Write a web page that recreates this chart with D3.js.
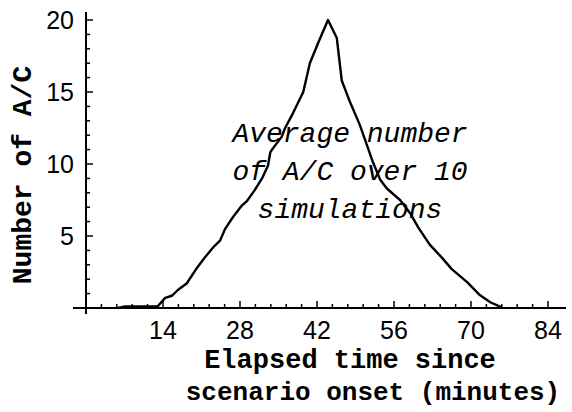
<!DOCTYPE html>
<html>
<head>
<meta charset="utf-8">
<script src="https://cdn.jsdelivr.net/npm/d3@7"></script>
<style>
body { margin: 0; background: #fff; }
</style>
</head>
<body>
<div id="workspace"></div>
<script>
// values
var minutes = [5.8, 6.9, 13, 14.4, 15.6, 16.7, 18.3, 20.2, 21.6, 23.1, 24.4, 25.3, 26.7, 28.3, 29.2, 30.7,
	32, 33.1, 33.5, 34, 35.6, 36.2, 37.6, 39.5, 40.7, 42.2, 44, 45.6, 46.5, 48, 49.8, 52, 53.5,
	54.7, 57.1, 58.9, 60.4, 62.5, 64.7, 66.5, 69.3, 71.6, 73.5, 75.6];
var aircraft = [0, 0.1, 0.1, 0.7, 0.85, 1.25, 1.7, 2.8, 3.5, 4.2, 4.7, 5.5, 6.3, 7.1, 7.4, 8.2,
	9.0, 9.9, 10.8, 11.1, 11.9, 12.5, 13.5, 15, 17, 18.4, 20, 18.75, 15.8, 14.3, 12.7, 10.3, 8.9,
	8.3, 7.5, 6.6, 5.6, 4.4, 3.5, 2.7, 1.8, 0.9, 0.4, 0.05];
var xTicks = [14, 28, 42, 56, 70, 84];
var yTicks = [5, 10, 15, 20];
var noteLines = ["Average number", "of A/C over 10", "simulations"];

var svg = d3.select("#workspace")
	.append("svg")
	.attr("width", 572)
	.attr("height", 412);

var x = d3.scaleLinear().domain([0, 84]).range([86, 548]);
var y = d3.scaleLinear().domain([0, 20]).range([308, 20]);

// axes, mathematica style: cross at origin, ticks inside
svg.append("line")
	.attr("x1", 73).attr("x2", 566)
	.attr("y1", y(0)).attr("y2", y(0))
	.attr("stroke", "black").attr("stroke-width", 2);
svg.append("line")
	.attr("x1", x(0)).attr("x2", x(0))
	.attr("y1", 12).attr("y2", 314)
	.attr("stroke", "black").attr("stroke-width", 2);

var xMinor = d3.range(1, 31).map(function(i) { return i * 2.8; });
svg.selectAll(".xt")
	.data(xMinor)
	.enter().append("line")
	.attr("x1", function(d) { return x(d); })
	.attr("x2", function(d) { return x(d); })
	.attr("y1", y(0))
	.attr("y2", function(d, i) { return (i + 1) % 5 == 0 ? y(0) - 7 : y(0) - 4; })
	.attr("stroke", "black").attr("stroke-width", 1.5);

var yMinor = d3.range(1, 21);
svg.selectAll(".yt")
	.data(yMinor)
	.enter().append("line")
	.attr("x1", x(0))
	.attr("x2", function(d) { return d % 5 == 0 ? x(0) + 7 : x(0) + 4; })
	.attr("y1", function(d) { return y(d); })
	.attr("y2", function(d) { return y(d); })
	.attr("stroke", "black").attr("stroke-width", 1.5);

svg.selectAll(".xl")
	.data(xTicks)
	.enter().append("text")
	.attr("x", function(d) { return x(d); })
	.attr("y", 339)
	.attr("text-anchor", "middle")
	.attr("font-family", "Liberation Sans, Arial, sans-serif")
	.attr("font-size", "25px")
	.text(function(d) { return d; });

svg.selectAll(".yl")
	.data(yTicks)
	.enter().append("text")
	.attr("x", 74)
	.attr("y", function(d) { return y(d) + 9; })
	.attr("text-anchor", "end")
	.attr("font-family", "Liberation Sans, Arial, sans-serif")
	.attr("font-size", "25px")
	.text(function(d) { return d; });

// axis titles
svg.append("text")
	.attr("x", 350).attr("y", 368)
	.attr("text-anchor", "middle")
	.attr("font-family", "Liberation Mono, Courier New, monospace")
	.attr("font-weight", "bold")
	.attr("font-size", "27px")
	.text("Elapsed time since");
svg.append("text")
	.attr("x", 373).attr("y", 400)
	.attr("text-anchor", "middle")
	.attr("font-family", "Liberation Mono, Courier New, monospace")
	.attr("font-weight", "bold")
	.attr("font-size", "26px")
	.text("scenario onset (minutes)");
svg.append("text")
	.attr("transform", "translate(31,175) rotate(-90)")
	.attr("text-anchor", "middle")
	.attr("font-family", "Liberation Mono, Courier New, monospace")
	.attr("font-weight", "bold")
	.attr("font-size", "28px")
	.text("Number of A/C");

// the curve
var line = d3.line()
	.x(function(d, i) { return x(minutes[i]); })
	.y(function(d) { return y(d); });
svg.append("path")
	.datum(aircraft)
	.attr("d", line)
	.attr("fill", "none")
	.attr("stroke", "black")
	.attr("stroke-width", 2.4)
	.attr("stroke-linejoin", "round");

// note on top of the curve
svg.selectAll(".note")
	.data(noteLines)
	.enter().append("text")
	.attr("x", 350)
	.attr("y", function(d, i) { return 142 + i * 38; })
	.attr("text-anchor", "middle")
	.attr("font-family", "Liberation Mono, Courier New, monospace")
	.attr("font-style", "italic")
	.attr("font-size", "28px")
	.text(function(d) { return d; });
</script>
</body>
</html>
